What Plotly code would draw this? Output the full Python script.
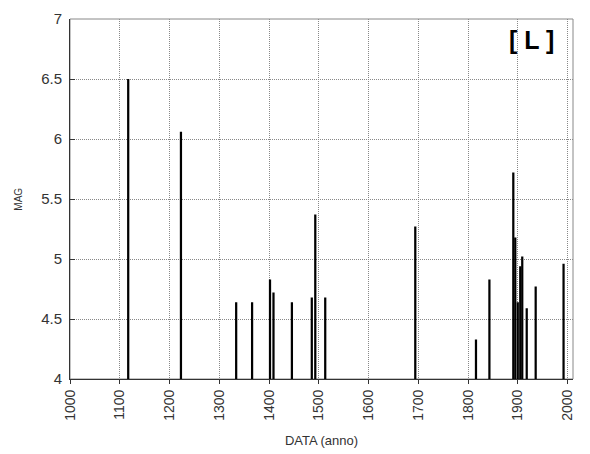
import plotly.graph_objects as go

years = [1117, 1223, 1334, 1366, 1402, 1409, 1446, 1486, 1493, 1513, 1694,
         1816, 1843, 1891, 1895, 1900, 1905, 1909, 1918, 1936, 1992]
mags = [6.5, 6.06, 4.64, 4.64, 4.83, 4.72, 4.64, 4.68, 5.37, 4.68, 5.27,
        4.33, 4.83, 5.72, 5.18, 4.64, 4.94, 5.02, 4.59, 4.77, 4.96]
x_ticks = [1000, 1100, 1200, 1300, 1400, 1500, 1600, 1700, 1800, 1900, 2000]
y_ticks = [4, 4.5, 5, 5.5, 6, 6.5, 7]

FONT = "Liberation Sans, Arial, sans-serif"

fig = go.Figure()
fig.add_trace(go.Bar(x=years, y=mags, width=4.5,
                     marker=dict(color="black", line=dict(width=0))))

fig.update_layout(
    width=582, height=446,
    margin=dict(l=62, r=17, t=11, b=75, autoexpand=False),
    paper_bgcolor="white", plot_bgcolor="white",
    showlegend=False,
    font=dict(family=FONT, color="#333"),
    shapes=[dict(type="rect", xref="paper", yref="paper", x0=0, y0=0, x1=1, y1=1,
                 line=dict(color="#888", width=1), layer="below")],
    annotations=[
        dict(text="<b>[ L ]</b>", xref="paper", yref="paper",
             x=0.917, y=0.942, xanchor="center", yanchor="middle",
             showarrow=False, font=dict(size=25, color="black", family=FONT)),
        dict(text="MAG", xref="paper", yref="paper", x=-0.104, y=0.5,
             xanchor="center", yanchor="middle", textangle=-90,
             showarrow=False, font=dict(size=10, color="#333", family=FONT)),
    ],
)
fig.update_xaxes(
    range=[1000, 2011], tickvals=x_ticks, ticktext=[str(t) for t in x_ticks],
    tickangle=-90, tickfont=dict(size=14, color="#333"),
    showgrid=True, gridcolor="#888", griddash="1px,1px", gridwidth=1,
    showline=True, linecolor="#333", linewidth=1,
    ticks="outside", ticklen=4, tickcolor="#333",
    title=dict(text="DATA (anno)", font=dict(size=13, color="#333"), standoff=16),
    zeroline=False,
)
fig.update_yaxes(
    range=[4, 7], tickvals=y_ticks, ticktext=["4", "4.5", "5", "5.5", "6", "6.5", "7"],
    tickfont=dict(size=15, color="#333"), ticklabelstandoff=4,
    showgrid=True, gridcolor="#888", griddash="1px,1px", gridwidth=1,
    showline=True, linecolor="#333", linewidth=1,
    ticks="inside", ticklen=5, tickcolor="#333",
    zeroline=False,
)

fig.write_html("out.html")
